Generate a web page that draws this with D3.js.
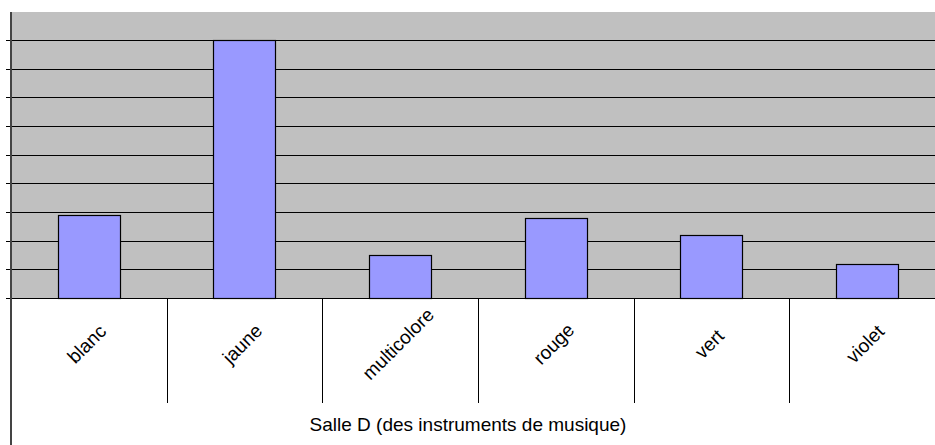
<!DOCTYPE html>
<html><head><meta charset="utf-8">
<script src="https://cdn.jsdelivr.net/npm/d3@7"></script>
<style>html,body{margin:0;padding:0;background:#fff;}svg{display:block;}</style>
</head><body>
<svg id="c" width="935" height="445"></svg>
<script>
const categories = ["blanc", "jaune", "multicolore", "rouge", "vert", "violet"];
const values = [29, 90, 15, 28, 22, 12];
const yTicks = [0, 10, 20, 30, 40, 50, 60, 70, 80, 90];
const axisTitle = "Salle D (des instruments de musique)";

(function () {
const svg = d3.select("#c");
const pLeft = 11, pRight = 945, pTop = 11.3, pBottom = 298;
const x = d3.scaleBand().domain(categories).range([pLeft, pRight]).paddingInner(0).paddingOuter(0);
const y = d3.scaleLinear().domain([0, 100]).range([pBottom, pTop]);

// plot background
svg.append("rect").attr("x", pLeft).attr("y", 12).attr("width", 935 - pLeft).attr("height", pBottom - 12).attr("fill", "#C0C0C0");

// gridlines + left ticks
const crisp = v => Math.round(v) + 0.5;
svg.append("g").selectAll("line").data(yTicks.filter(d => d > 0)).join("line")
  .attr("x1", 6).attr("x2", 935)
  .attr("y1", d => crisp(y(d))).attr("y2", d => crisp(y(d)))
  .attr("stroke", "#000").attr("stroke-width", 1);

// bars
const bw = x.bandwidth() * 0.4;
svg.append("g").selectAll("rect").data(categories).join("rect")
  .attr("x", d => Math.round(x(d) + x.bandwidth() / 2 - bw / 2) + 0.5)
  .attr("y", (d, i) => Math.round(y(values[i])) + 0.5)
  .attr("width", Math.round(bw))
  .attr("height", (d, i) => Math.round(y(0)) - Math.round(y(values[i])))
  .attr("fill", "#9999FF").attr("stroke", "#000").attr("stroke-width", 1.2);

// x axis line
svg.append("line").attr("x1", 6).attr("x2", 935).attr("y1", pBottom + 0.5).attr("y2", pBottom + 0.5)
  .attr("stroke", "#000").attr("stroke-width", 1);

// category separators
svg.append("g").selectAll("line").data(categories.slice(1)).join("line")
  .attr("x1", d => crisp(x(d))).attr("x2", d => crisp(x(d)))
  .attr("y1", pBottom).attr("y2", 403)
  .attr("stroke", "#000").attr("stroke-width", 1);

// left axis line
svg.append("line").attr("x1", 11).attr("x2", 11).attr("y1", 12).attr("y2", 445)
  .attr("stroke", "#444").attr("stroke-width", 2);

// category labels
svg.append("g").selectAll("text").data(categories).join("text")
  .attr("transform", d => `translate(${x(d) + x.bandwidth() / 2 - 1},${345}) rotate(-45)`)
  .attr("text-anchor", "middle").attr("dominant-baseline", "middle")
  .attr("font-family", "Liberation Sans, Arial, sans-serif").attr("font-size", 19)
  .attr("fill", "#000").text(d => d);

// axis title
svg.append("text").attr("x", 468).attr("y", 431).attr("text-anchor", "middle")
  .attr("font-family", "Liberation Sans, Arial, sans-serif").attr("font-size", 19)
  .attr("fill", "#000").text(axisTitle);
})();
</script>
</body></html>
